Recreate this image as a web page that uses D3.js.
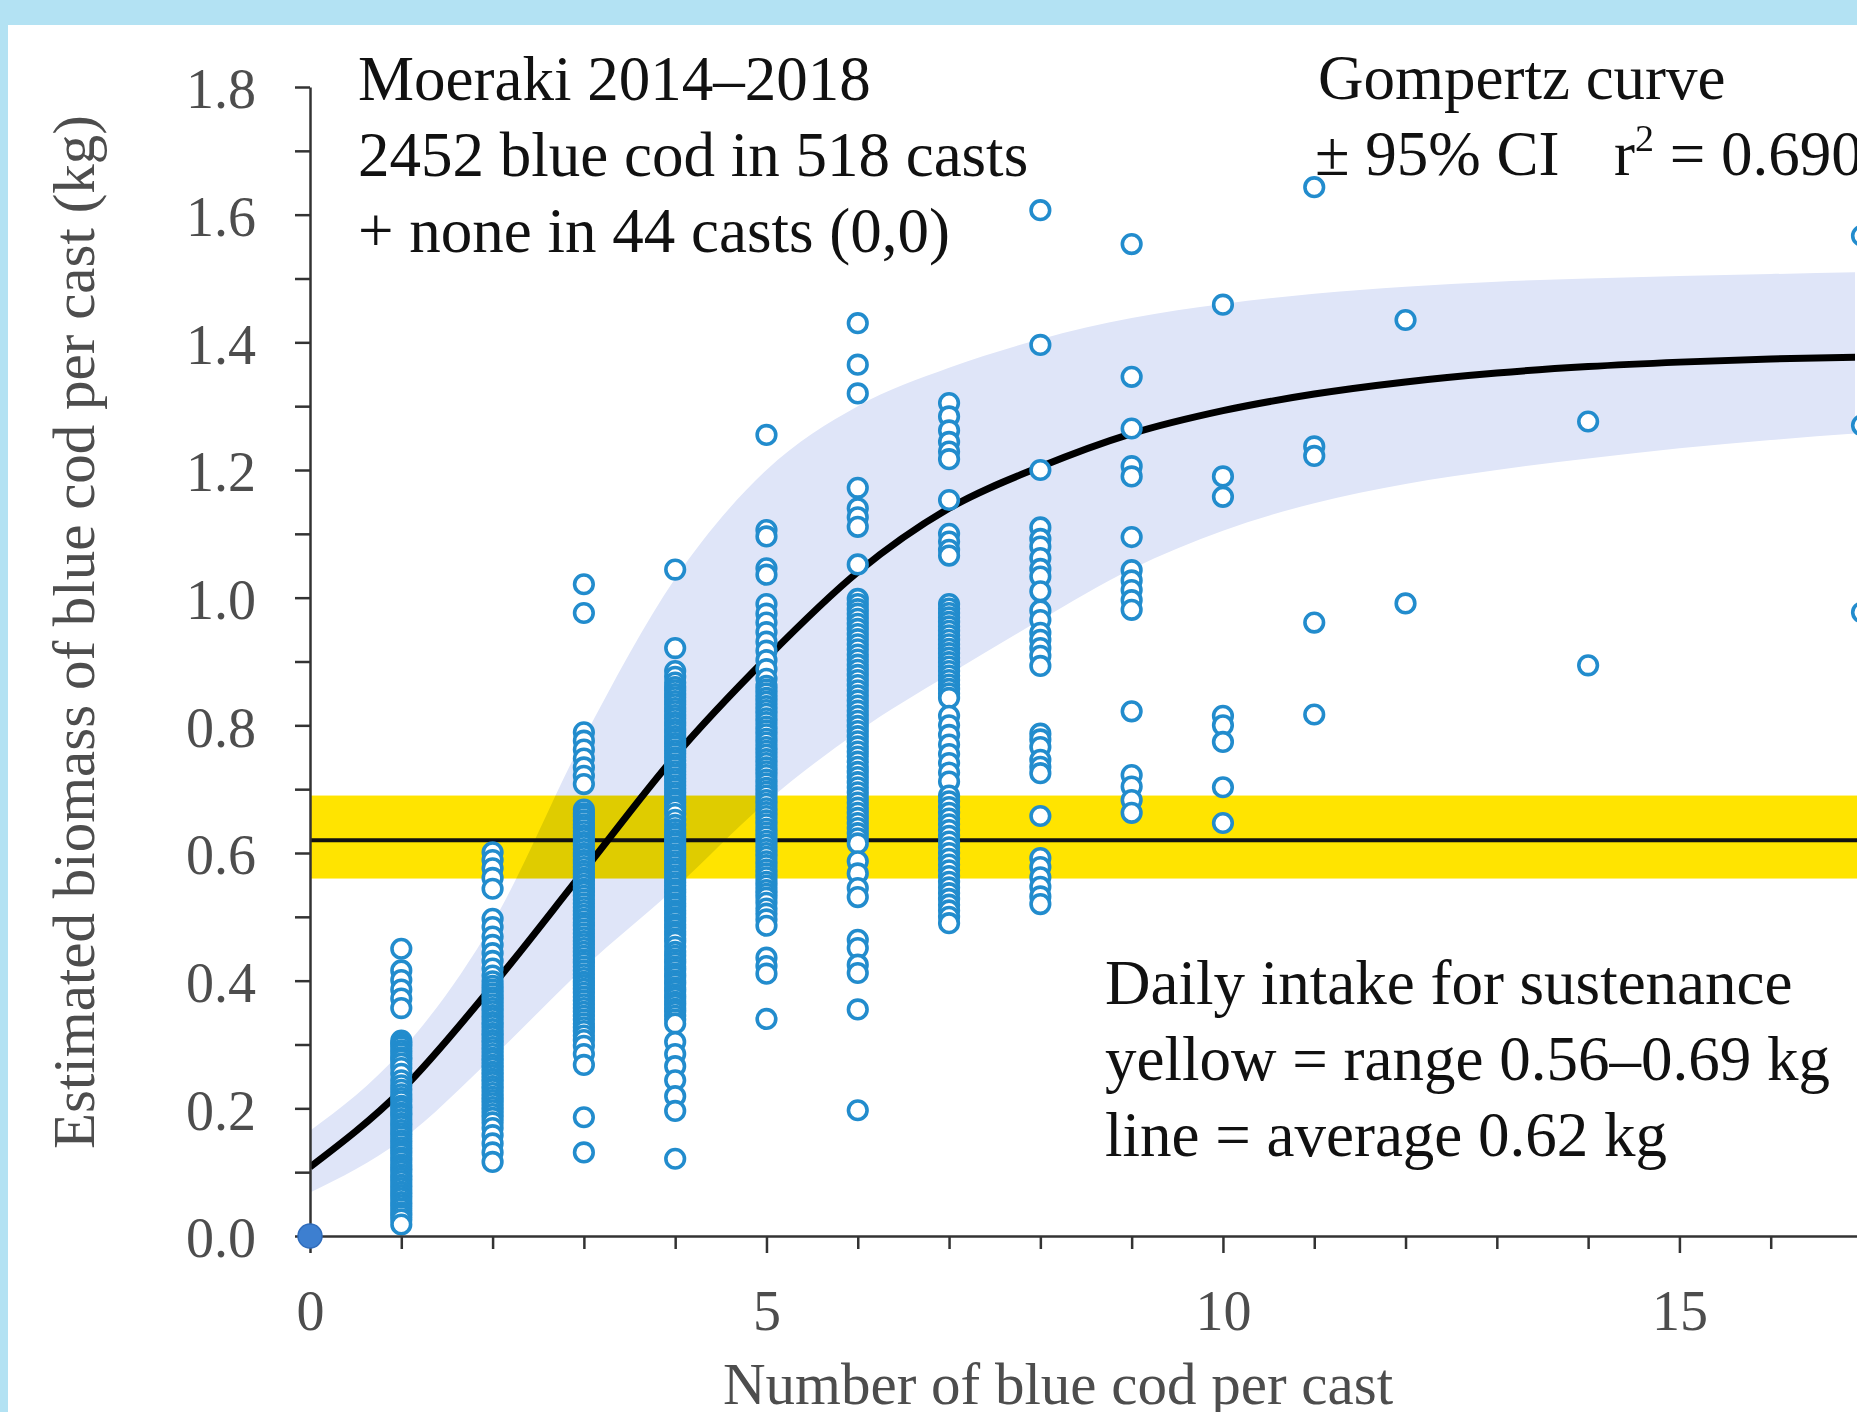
<!DOCTYPE html>
<html>
<head>
<meta charset="utf-8">
<script src="https://cdn.jsdelivr.net/npm/d3@7"></script>
<style>
body { margin: 0; background: #ffffff; }
svg { display: block; }
text { font-family: "Liberation Serif", "Times New Roman", serif; }
</style>
</head>
<body>
<svg id="chart" width="1857" height="1412"></svg>
<script>
// Gompertz fit and its 95% CI at each whole cast count
var curveX   = [0, 1, 2, 3, 4, 5, 6, 7, 8, 9, 10, 11, 12, 13, 14, 15, 16, 17];
var curveMid = [0.108, 0.228, 0.392, 0.572, 0.752, 0.905, 1.04, 1.14, 1.205, 1.257, 1.293, 1.319, 1.338, 1.352, 1.362, 1.369, 1.374, 1.377];
var ciUpper  = [0.165, 0.29, 0.49, 0.78, 1.03, 1.2, 1.3, 1.36, 1.405, 1.438, 1.46, 1.476, 1.487, 1.495, 1.5, 1.504, 1.507, 1.51];
var ciLower  = [0.068, 0.15, 0.28, 0.42, 0.545, 0.68, 0.79, 0.88, 0.965, 1.045, 1.105, 1.148, 1.178, 1.2, 1.218, 1.234, 1.247, 1.258];

// daily intake band (kg)
var intakeLow = 0.56, intakeHigh = 0.69, intakeAvg = 0.62;

var yLabels = [0, 0.2, 0.4, 0.6, 0.8, 1.0, 1.2, 1.4, 1.6, 1.8];
var xLabels = [0, 5, 10, 15];

// biomass (kg) of each cast, grouped by number of blue cod in the cast
var cod1 = [0.45, 0.416, 0.401, 0.386, 0.372, 0.357,
  0.306, 0.301, 0.297, 0.291, 0.286, 0.28, 0.276, 0.27, 0.263, 0.254, 0.244, 0.236, 0.229, 0.222, 0.216, 0.211,
  0.204, 0.199, 0.193, 0.189, 0.183, 0.177, 0.172, 0.166, 0.161, 0.156, 0.15, 0.145, 0.139, 0.134, 0.129, 0.123,
  0.118, 0.112, 0.107, 0.102, 0.096, 0.091, 0.086, 0.08, 0.075, 0.069, 0.064, 0.059, 0.053, 0.048, 0.043, 0.037,
  0.032, 0.026, 0.018];
var cod2 = [0.601, 0.589, 0.576, 0.561, 0.544,
  0.497, 0.484, 0.469, 0.456, 0.443, 0.431, 0.419, 0.408, 0.399, 0.392, 0.386, 0.38, 0.374, 0.369, 0.363, 0.357,
  0.352, 0.346, 0.341, 0.335, 0.33, 0.324, 0.318, 0.313, 0.307, 0.302, 0.296, 0.291, 0.285, 0.279, 0.274, 0.268,
  0.263, 0.257, 0.252, 0.246, 0.241, 0.235, 0.23, 0.224, 0.218, 0.213, 0.208, 0.202, 0.197, 0.191, 0.185, 0.178,
  0.169, 0.158, 0.145, 0.131, 0.116];
var cod3 = [1.021, 0.976, 0.789, 0.776, 0.762, 0.748, 0.734, 0.721, 0.708,
  0.668, 0.662, 0.657, 0.651, 0.645, 0.64, 0.634, 0.628, 0.623, 0.617, 0.612, 0.606, 0.6, 0.595, 0.589, 0.584,
  0.578, 0.572, 0.567, 0.561, 0.556, 0.55, 0.544, 0.539, 0.533, 0.527, 0.521, 0.515, 0.509, 0.503, 0.497, 0.491,
  0.486, 0.48, 0.474, 0.468, 0.462, 0.457, 0.451, 0.445, 0.439, 0.433, 0.428, 0.422, 0.416, 0.41, 0.404, 0.398,
  0.393, 0.387, 0.381, 0.375, 0.369, 0.363, 0.357, 0.351, 0.345, 0.339, 0.333, 0.327, 0.321, 0.314, 0.307, 0.298,
  0.285, 0.268, 0.186, 0.131];
var cod4 = [1.044, 0.921, 0.885, 0.876, 0.867,
  0.86, 0.855, 0.849, 0.844, 0.838, 0.833, 0.827, 0.822, 0.816, 0.811, 0.805, 0.8, 0.794, 0.789, 0.783, 0.778,
  0.772, 0.767, 0.761, 0.756, 0.75, 0.745, 0.739, 0.734, 0.728, 0.723, 0.717, 0.712, 0.706, 0.701, 0.695, 0.69,
  0.684, 0.679, 0.673, 0.668, 0.661, 0.652, 0.644, 0.637, 0.631, 0.626, 0.62, 0.615, 0.609, 0.604, 0.598, 0.593,
  0.587, 0.582, 0.576, 0.571, 0.565, 0.56, 0.554, 0.549, 0.543, 0.538, 0.532, 0.527, 0.521, 0.516, 0.51, 0.505,
  0.499, 0.494, 0.488, 0.483, 0.477, 0.472, 0.466, 0.461, 0.453, 0.445, 0.439, 0.433, 0.428, 0.422, 0.417, 0.411,
  0.406, 0.4, 0.395, 0.389, 0.384, 0.378, 0.373, 0.367, 0.362, 0.356, 0.351, 0.345, 0.339, 0.333,
  0.304, 0.285, 0.266, 0.244, 0.219, 0.196, 0.121];
var cod5 = [1.255, 1.106, 1.096, 1.046, 1.036,
  0.99, 0.975, 0.961, 0.946, 0.931, 0.917, 0.902, 0.888, 0.873,
  0.862, 0.856, 0.85, 0.843, 0.837, 0.83, 0.824, 0.818, 0.811, 0.805, 0.798, 0.792, 0.786, 0.779, 0.773, 0.766,
  0.76, 0.754, 0.747, 0.741, 0.734, 0.728, 0.722, 0.715, 0.709, 0.702, 0.696, 0.69, 0.683, 0.677, 0.67, 0.664,
  0.658, 0.651, 0.645, 0.638, 0.632, 0.626, 0.619, 0.613, 0.606, 0.6, 0.594, 0.587, 0.581, 0.574, 0.568, 0.562,
  0.555, 0.549, 0.542, 0.536, 0.53, 0.522, 0.513, 0.505, 0.496, 0.486, 0.436, 0.423, 0.411, 0.34];
var cod6 = [1.43, 1.365, 1.32, 1.172, 1.14, 1.126, 1.111, 1.052,
  0.998, 0.99, 0.982, 0.975, 0.967, 0.959, 0.951, 0.943, 0.935, 0.927, 0.919, 0.911, 0.903, 0.895, 0.887, 0.879,
  0.871, 0.863, 0.855, 0.847, 0.839, 0.831, 0.823, 0.815, 0.807, 0.799, 0.791, 0.783, 0.775, 0.767, 0.759, 0.751,
  0.743, 0.735, 0.727, 0.719, 0.711, 0.703, 0.695, 0.687, 0.679, 0.671, 0.663, 0.655, 0.647, 0.639, 0.631, 0.623,
  0.615, 0.587, 0.568, 0.545, 0.531, 0.464, 0.451, 0.425, 0.412, 0.355, 0.197];
var cod7 = [1.305, 1.284, 1.262, 1.244, 1.229, 1.217, 1.153, 1.1, 1.088, 1.075, 1.066,
  0.99, 0.983, 0.976, 0.969, 0.962, 0.955, 0.948, 0.941, 0.934, 0.927, 0.92, 0.913, 0.906, 0.899, 0.892, 0.885,
  0.878, 0.871, 0.864, 0.857, 0.85, 0.843,
  0.815, 0.8, 0.785, 0.77, 0.755, 0.741, 0.726, 0.712,
  0.69, 0.681, 0.672, 0.663, 0.654, 0.645, 0.636, 0.627, 0.618, 0.609, 0.6, 0.591, 0.582, 0.573, 0.564, 0.555,
  0.546, 0.537, 0.528, 0.519, 0.51, 0.5, 0.49];
var cod8 = [1.607, 1.396, 1.2, 1.11, 1.092, 1.08, 1.062, 1.045, 1.033, 1.01, 0.98, 0.965, 0.945, 0.934, 0.921,
  0.909, 0.893, 0.787, 0.778, 0.766, 0.746, 0.735, 0.725, 0.658, 0.592, 0.578, 0.562, 0.547, 0.532, 0.52];
var cod9 = [1.554, 1.346, 1.265, 1.206, 1.19, 1.095, 1.043, 1.027, 1.012, 0.996, 0.981, 0.822, 0.722, 0.704, 0.683, 0.663];
var cod10 = [1.459, 1.19, 1.158, 0.815, 0.8, 0.774, 0.703, 0.647];
var cod11 = [1.643, 1.237, 1.222, 0.961, 0.817];
var cod12 = [1.435, 0.991];
var cod14 = [1.276, 0.894];
var cod17 = [1.567, 1.27, 0.977];

var codCounts = [1, 2, 3, 4, 5, 6, 7, 8, 9, 10, 11, 12, 14, 17];
var codCasts  = [cod1, cod2, cod3, cod4, cod5, cod6, cod7, cod8, cod9, cod10, cod11, cod12, cod14, cod17];

var W = 1857, H = 1412;
var svg = d3.select("#chart");

var x = d3.scaleLinear().domain([0, 17]).range([310, 1862]);
var y = d3.scaleLinear().domain([0, 1.8]).range([1236, 87]);

// light blue frame
svg.append("rect").attr("width", W).attr("height", H).style("fill", "#b3e2f3");
svg.append("rect").attr("x", 8).attr("y", 25).attr("width", W).attr("height", H).style("fill", "#ffffff");

svg.append("clipPath").attr("id", "fitclip")
  .append("rect").attr("x", x(0)).attr("y", 0).attr("width", 1855 - x(0)).attr("height", y(0));

// yellow intake range + average line
svg.append("rect")
  .attr("x", x(0)).attr("y", y(intakeHigh))
  .attr("width", x(17) - x(0)).attr("height", y(intakeLow) - y(intakeHigh))
  .style("fill", "#ffe400");

var fit = curveX.map(function(d, i) { return {x: d, mid: curveMid[i], lo: ciLower[i], hi: ciUpper[i]}; });

svg.append("path")
  .datum(fit)
  .attr("clip-path", "url(#fitclip)")
  .attr("d", d3.area().curve(d3.curveMonotoneX)
    .x(function(d) { return x(d.x); })
    .y0(function(d) { return y(d.lo); })
    .y1(function(d) { return y(d.hi); }))
  .style("fill", "#dfe5f8")
  .style("mix-blend-mode", "multiply");

svg.append("line")
  .attr("x1", x(0)).attr("x2", x(17))
  .attr("y1", y(intakeAvg)).attr("y2", y(intakeAvg))
  .style("stroke", "#111").style("stroke-width", 4);

svg.append("path")
  .datum(fit)
  .attr("clip-path", "url(#fitclip)")
  .attr("d", d3.line().curve(d3.curveMonotoneX)
    .x(function(d) { return x(d.x); })
    .y(function(d) { return y(d.mid); }))
  .style("fill", "none")
  .style("stroke", "#000")
  .style("stroke-width", 7);

// casts
var pts = [];
codCounts.forEach(function(n, i) {
  codCasts[i].forEach(function(v) { pts.push({n: n, kg: v}); });
});

svg.append("g").selectAll("circle")
  .data(pts)
  .enter().append("circle")
  .attr("cx", function(d) { return x(d.n); })
  .attr("cy", function(d) { return y(d.kg); })
  .attr("r", 9.3)
  .style("fill", "#ffffff")
  .style("stroke", "#228ccd")
  .style("stroke-width", 3.6);

// axes
var yAxis = d3.axisLeft(y)
  .tickValues(d3.range(0, 19).map(function(i) { return i / 10; }))
  .tickSize(15).tickSizeOuter(0).tickPadding(39)
  .tickFormat(function(d) {
    var k = Math.round(d * 10);
    return k % 2 === 0 ? d3.format(".1f")(d) : "";
  });
var gy = svg.append("g").attr("transform", "translate(" + x(0) + ",0)").call(yAxis);

var xAxis = d3.axisBottom(x)
  .tickValues(d3.range(0, 18))
  .tickSize(13).tickSizeOuter(0)
  .tickFormat(function(d) { return xLabels.indexOf(d) >= 0 ? d : ""; });
var gx = svg.append("g").attr("transform", "translate(0," + y(0) + ")").call(xAxis);

gx.selectAll(".tick line").filter(function(d) { return d % 5 === 0; }).attr("y2", 17);
gx.selectAll(".tick text").attr("y", 94).attr("dy", 0);
gy.selectAll(".tick text").attr("dy", "0.37em");

[gx, gy].forEach(function(g) {
  g.select(".domain").style("stroke", "#333").style("stroke-width", 2.5);
  g.selectAll(".tick line").style("stroke", "#333").style("stroke-width", 2.5);
  g.selectAll(".tick text")
    .style("font-family", "'Liberation Serif', serif")
    .style("font-size", "56px")
    .style("fill", "#4d4d4d");
});

// the 44 empty casts sit at the origin
svg.append("circle")
  .attr("cx", x(0)).attr("cy", y(0)).attr("r", 12)
  .style("fill", "#3d7fd0").style("stroke", "#2f6cbc").style("stroke-width", 1.5);

// axis titles
svg.append("text")
  .attr("x", 1058).attr("y", 1404)
  .attr("text-anchor", "middle")
  .style("font-size", "59px").style("fill", "#4d4d4d")
  .text("Number of blue cod per cast");

svg.append("text")
  .attr("transform", "translate(94,632) rotate(-90)")
  .attr("text-anchor", "middle")
  .style("font-size", "59px").style("fill", "#4d4d4d")
  .text("Estimated biomass of blue cod per cast (kg)");

// notes
function note(tx, ty, lines) {
  lines.forEach(function(s, i) {
    svg.append("text")
      .attr("x", tx).attr("y", ty + i * 76)
      .style("font-size", "63px").style("fill", "#111")
      .text(s);
  });
}
note(358, 100, ["Moeraki 2014\u20132018", "2452 blue cod in 518 casts", "+ none in 44 casts (0,0)"]);
note(1318, 99, ["Gompertz curve"]);
note(1105, 1004, ["Daily intake for sustenance", "yellow = range 0.56\u20130.69 kg", "line = average 0.62 kg"]);

svg.append("text")
  .attr("x", 1315).attr("y", 175)
  .style("font-size", "63px").style("fill", "#111")
  .text("\u00b1 95% CI");

var r2 = svg.append("text")
  .attr("x", 1614).attr("y", 175)
  .style("font-size", "63px").style("fill", "#111");
r2.append("tspan").text("r");
r2.append("tspan").attr("dy", -24).style("font-size", "38px").text("2");
r2.append("tspan").attr("dy", 24).text(" = 0.690");
</script>
</body>
</html>
